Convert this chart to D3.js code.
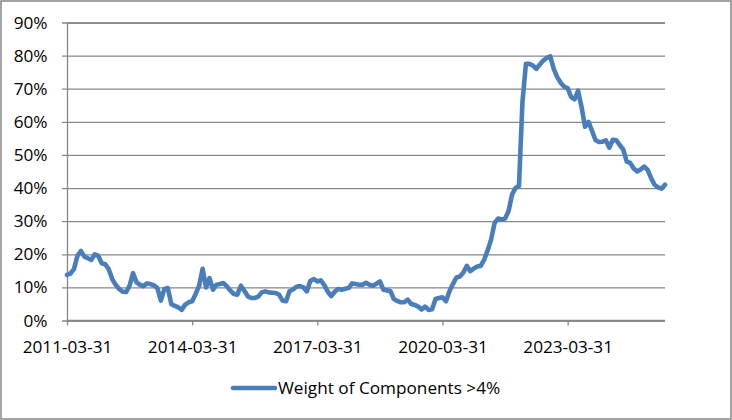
<!DOCTYPE html>
<html>
<head>
<meta charset="utf-8">
<script src="https://cdn.jsdelivr.net/npm/d3@7"></script>
<style>
  html, body { margin: 0; padding: 0; background: #fff; }
  svg { display: block; }
  text { font-family: "Open Sans", sans-serif; fill: #000; }
</style>
</head>
<body>
<svg id="chart" width="732" height="420"></svg>
<script>
// ---- data ----
const seriesName = "Weight of Components >4%";
const startMonthEnd = "2011-03-31";
const tickLabels = ["2011-03-31", "2014-03-31", "2017-03-31", "2020-03-31", "2023-03-31"];
const yTicks = [0, 0.1, 0.2, 0.3, 0.4, 0.5, 0.6, 0.7, 0.8, 0.9];
// monthly values, percent
const values = [
  13.8, 14.2, 15.5, 19.5, 21.0, 19.3, 18.8, 18.3, 20.0, 19.5, 17.3, 17.0,
  15.5, 12.5, 10.8, 9.5, 8.7, 8.6, 10.5, 14.3, 11.5, 10.8, 10.4, 11.2,
  11.0, 10.6, 9.8, 6.0, 9.5, 9.8, 5.0, 4.4, 4.0, 3.2, 4.8, 5.5,
  5.8, 8.0, 10.5, 15.6, 10.0, 12.8, 9.3, 10.8, 11.0, 11.3, 10.3, 9.0,
  8.0, 7.8, 10.5, 9.0, 7.3, 6.8, 6.8, 7.2, 8.5, 8.8, 8.5, 8.4,
  8.3, 7.8, 6.0, 5.8, 8.8, 9.4, 10.2, 10.4, 10.0, 8.8, 12.0, 12.5,
  11.8, 12.1, 10.7, 8.7, 7.4, 8.7, 9.5, 9.3, 9.6, 9.8, 11.2, 11.0,
  10.8, 10.8, 11.4, 10.8, 10.5, 11.1, 11.8, 9.3, 9.1, 8.9, 6.5, 5.9,
  5.5, 5.5, 6.3, 5.0, 4.7, 4.2, 3.3, 4.2, 3.2, 3.4, 6.5, 6.8,
  7.0, 5.8, 8.8, 11.0, 13.0, 13.3, 14.5, 16.5, 14.9, 15.7, 16.3, 16.5,
  18.4, 21.2, 24.5, 29.5, 30.8, 30.5, 30.8, 33.0, 38.0, 40.0, 40.6, 66.0,
  77.5, 77.5, 77.0, 76.0, 77.3, 78.5, 79.3, 79.8, 76.0, 73.5, 71.8, 70.6,
  70.2, 67.5, 66.8, 69.4, 64.5, 58.5, 60.0, 57.3, 54.5, 53.9, 54.0, 54.4,
  52.2, 54.6, 54.4, 53.0, 51.6, 48.0, 47.6, 45.9, 45.0, 45.6, 46.5, 45.5,
  43.0, 41.0, 40.2, 39.8, 41.0
];

// ---- categories (month-end dates) ----
const fmt = d3.utcFormat("%Y-%m-%d");
const firstNext = d3.utcDay.offset(d3.utcParse("%Y-%m-%d")(startMonthEnd), 1);
const categories = values.map((v, i) => fmt(d3.utcDay.offset(d3.utcMonth.offset(firstNext, i), -1)));
const data = categories.map((c, i) => ({ c, v: values[i] / 100 }));

// ---- layout ----
const svg = d3.select("#chart");
const W = 732, H = 420;
const plot = { left: 67, right: 665, top: 22.5, bottom: 320.5 };
const gridColor = "#878787";
const lineColor = "#4a7ebb";

svg.append("rect").attr("x", 1).attr("y", 1).attr("width", W - 2).attr("height", H - 2)
  .attr("fill", "#fff").attr("stroke", gridColor).attr("stroke-width", 1.5);

const x = d3.scalePoint().domain(categories).range([plot.left, plot.right]);
const y = d3.scaleLinear().domain([0, 0.9]).range([plot.bottom, plot.top]);

// gridlines + y axis
const yAxis = d3.axisLeft(y).tickValues(yTicks).tickFormat(d3.format(".0%"))
  .tickSize(-(plot.right - plot.left)).tickPadding(0);
const gy = svg.append("g").attr("transform", `translate(${plot.left},0)`).call(yAxis);
gy.select(".domain").attr("stroke", gridColor).attr("stroke-width", 1.3);
gy.selectAll(".tick line").attr("stroke", gridColor).attr("stroke-width", 1.3)
  .attr("x1", -5);
gy.selectAll(".tick text").attr("x", -19.5).attr("font-size", 17.2)
  .style("font-family", "'Open Sans', sans-serif").attr("fill", "#000");

// x axis
const xAxis = d3.axisBottom(x).tickValues(tickLabels).tickSize(5).tickPadding(0);
const gx = svg.append("g").attr("transform", `translate(0,${plot.bottom})`).call(xAxis);
gx.select(".domain").attr("stroke", gridColor).attr("stroke-width", 1.3)
  .attr("d", `M${plot.left},0H${plot.right}`);
gx.selectAll(".tick line").attr("stroke", gridColor).attr("stroke-width", 1.3);
gx.selectAll(".tick text").attr("y", 32).attr("dy", 0).attr("font-size", 17.2)
  .style("font-family", "'Open Sans', sans-serif").attr("fill", "#000");

// series line
const line = d3.line().x(d => x(d.c)).y(d => y(d.v)).curve(d3.curveLinear);
svg.append("path").datum(data).attr("d", line)
  .attr("fill", "none").attr("stroke", lineColor).attr("stroke-width", 4.6)
  .attr("stroke-linejoin", "round").attr("stroke-linecap", "round");

// legend
const lg = svg.append("g");
lg.append("line").attr("x1", 233).attr("x2", 275).attr("y1", 388).attr("y2", 388)
  .attr("stroke", lineColor).attr("stroke-width", 4.6).attr("stroke-linecap", "round");
lg.append("text").attr("x", 278).attr("y", 394).attr("font-size", 17.2).text(seriesName);
</script>
</body>
</html>
